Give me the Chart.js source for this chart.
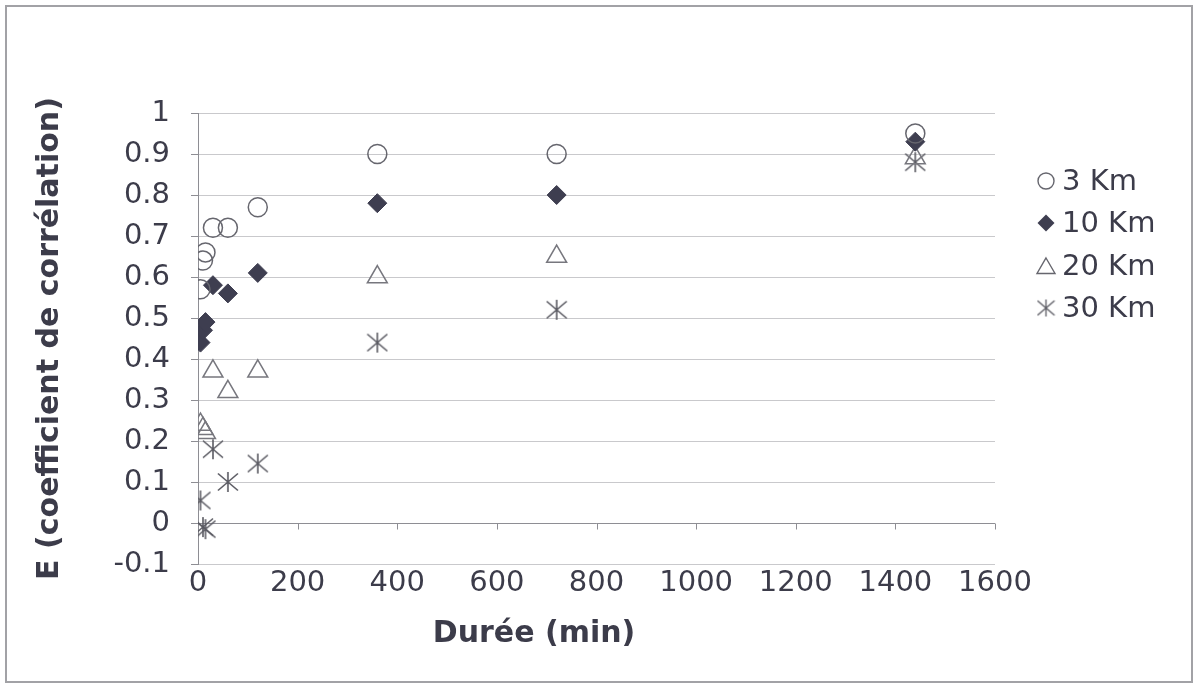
<!DOCTYPE html>
<html>
<head>
<meta charset="utf-8">
<script src="https://cdn.jsdelivr.net/npm/chart.js@4"></script>
<style>
  html, body { margin: 0; padding: 0; background: #fff; }
  #wrap { position: relative; width: 1199px; height: 688px; }
  #frame { position: absolute; left: 5px; top: 5px; width: 1184px; height: 674px; border: 2px solid #a2a2a6; pointer-events: none; }
</style>
</head>
<body>
<div id="wrap">
  <canvas id="effChart" width="1199" height="688"></canvas>
  <div id="frame"></div>
</div>
<script>
// durées (min) et coefficient E par distance
const durations = [5, 10, 15, 30, 60, 120, 360, 720, 1440];
const km3  = [0.57, 0.64, 0.66, 0.72, 0.72, 0.77, 0.90, 0.90, 0.95];
const km10 = [0.44, 0.47, 0.49, 0.58, 0.56, 0.61, 0.78, 0.80, 0.93];
const km20 = [0.24, 0.23, 0.22, 0.37, 0.32, 0.37, 0.60, 0.65, 0.89];
const km30 = [0.055, -0.01, -0.015, 0.18, 0.10, 0.145, 0.44, 0.52, 0.88];
const seriesNames = ['3 Km', '10 Km', '20 Km', '30 Km'];
const xTicks = [0, 200, 400, 600, 800, 1000, 1200, 1400, 1600];
const yTicks = [-0.1, 0, 0.1, 0.2, 0.3, 0.4, 0.5, 0.6, 0.7, 0.8, 0.9, 1];

const textColor = '#3c3c4a';
const fontFamily = '"DejaVu Sans", Verdana, sans-serif';

function toPoints(values) {
    return durations.map((d, i) => ({ x: d, y: values[i] }));
}

// astérisque façon Excel (X + trait vertical)
function makeStar(size, color, lw) {
    const c = document.createElement('canvas');
    c.width = size; c.height = size;
    const g = c.getContext('2d');
    g.strokeStyle = color;
    g.lineWidth = lw;
    const m = size / 2, r = size / 2 - 1;
    g.beginPath();
    g.moveTo(m, m - r); g.lineTo(m, m + r);
    g.moveTo(m - r, m - r * 0.85); g.lineTo(m + r, m + r * 0.85);
    g.moveTo(m + r, m - r * 0.85); g.lineTo(m - r, m + r * 0.85);
    g.stroke();
    return c;
}
const starImg = makeStar(22, '#5a5a62', 1.6);

// axe horizontal à y = 0 avec graduations
const zeroAxis = {
    id: 'zeroAxis',
    beforeDatasetsDraw(chart) {
        const { ctx, chartArea, scales } = chart;
        const y0 = Math.round(scales.y.getPixelForValue(0)) + 0.5;
        ctx.save();
        ctx.strokeStyle = '#8e8e94';
        ctx.lineWidth = 1;
        ctx.beginPath();
        ctx.moveTo(chartArea.left, y0);
        ctx.lineTo(chartArea.right, y0);
        xTicks.forEach(v => {
            const x = Math.round(scales.x.getPixelForValue(v)) + 0.5;
            ctx.moveTo(x, y0);
            ctx.lineTo(x, y0 + 6);
        });
        ctx.stroke();
        ctx.restore();
    }
};

// titre X et légende dessinés à la main
const extras = {
    id: 'extras',
    afterDraw(chart) {
        const ctx = chart.ctx;
        ctx.save();
        ctx.fillStyle = textColor;
        ctx.font = 'bold 30px ' + fontFamily;
        ctx.textAlign = 'center';
        ctx.textBaseline = 'middle';
        ctx.fillText('Durée (min)', 534, 634);

        const lx = 1046, rows = [181, 223, 266, 308];
        ctx.font = '29px ' + fontFamily;
        ctx.textAlign = 'left';
        rows.forEach((y, i) => {
            ctx.lineWidth = 1.4;
            ctx.beginPath();
            if (i === 0) {
                ctx.strokeStyle = '#66666e';
                ctx.arc(lx, y, 8, 0, Math.PI * 2);
                ctx.stroke();
            } else if (i === 1) {
                ctx.fillStyle = '#3e3e50';
                ctx.moveTo(lx, y - 8.5); ctx.lineTo(lx + 8.5, y); ctx.lineTo(lx, y + 8.5); ctx.lineTo(lx - 8.5, y);
                ctx.closePath();
                ctx.fill();
            } else if (i === 2) {
                ctx.strokeStyle = '#66666e';
                ctx.moveTo(lx, y - 8); ctx.lineTo(lx + 9, y + 7.5); ctx.lineTo(lx - 9, y + 7.5);
                ctx.closePath();
                ctx.stroke();
            } else {
                ctx.drawImage(makeStar(19, '#5a5a62', 1.3), lx - 9.5, y - 9.5);
            }
            ctx.fillStyle = textColor;
            ctx.fillText(seriesNames[i], 1062, y + 1);
        });
        ctx.restore();
    }
};

const datasets = [
    { label: seriesNames[0], data: toPoints(km3), pointStyle: 'circle', radius: 9.5,
      backgroundColor: 'rgba(255,255,255,0)', borderColor: '#66666e', borderWidth: 1.5 },
    { label: seriesNames[1], data: toPoints(km10), pointStyle: 'rectRot', radius: 9.5,
      backgroundColor: '#3e3e50', borderColor: '#3e3e50', borderWidth: 1 },
    { label: seriesNames[2], data: toPoints(km20), pointStyle: 'triangle', radius: 11.5,
      backgroundColor: 'rgba(255,255,255,0)', borderColor: '#77777e', borderWidth: 1.5 },
    { label: seriesNames[3], data: toPoints(km30), pointStyle: starImg, radius: 11,
      backgroundColor: 'rgba(0,0,0,0)', borderColor: '#5a5a62', borderWidth: 1 }
];

const effChart = new Chart(document.getElementById('effChart'), {
    type: 'scatter',
    data: { datasets: datasets },
    plugins: [zeroAxis, extras],
    options: {
        responsive: false,
        animation: false,
        events: [],
        layout: { padding: { top: 113, right: 204, bottom: 0, left: 0 } },
        plugins: { legend: { display: false }, tooltip: { enabled: false } },
        scales: {
            x: {
                type: 'linear',
                min: 0, max: 1600,
                afterFit: s => { s.height = 124; },
                afterBuildTicks: s => { s.ticks = xTicks.map(v => ({ value: v })); },
                grid: { display: false },
                border: { display: false },
                ticks: {
                    padding: -6, color: textColor, font: { family: fontFamily, size: 29 },
                    callback: v => String(v)
                }
            },
            y: {
                min: -0.1, max: 1,
                afterFit: s => { s.width = 198; },
                afterBuildTicks: s => { s.ticks = yTicks.map(v => ({ value: v })); },
                grid: { color: '#c9c9cc', lineWidth: 1, drawTicks: true, tickLength: 7, tickColor: '#8e8e94' },
                border: { display: true, color: '#8e8e94', width: 1 },
                ticks: {
                    padding: 21, color: textColor, font: { family: fontFamily, size: 29 },
                    callback: v => String(Math.round(v * 10) / 10)
                },
                title: {
                    display: true, text: 'E (coefficient de corrélation)', color: textColor,
                    font: { family: fontFamily, size: 30, weight: 'bold' },
                    padding: { top: 32, bottom: 0 }
                }
            }
        }
    }
});
</script>
</body>
</html>
